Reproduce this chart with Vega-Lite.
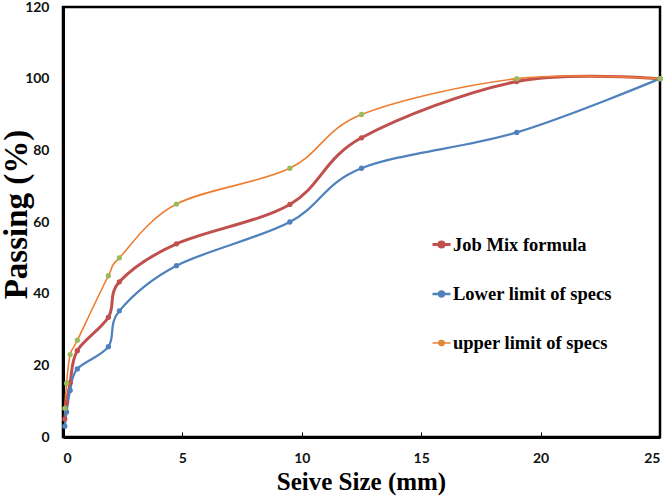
{
  "$schema": "https://vega.github.io/schema/vega-lite/v6.json",
  "width": 597,
  "height": 430,
  "autosize": {"type": "none"},
  "padding": {"left": 63, "top": 7, "right": 9, "bottom": 59},
  "background": "white",
  "config": {
    "view": {"stroke": "black", "strokeWidth": 2.5},
    "axis": {
      "grid": false,
      "domainColor": "black",
      "domainWidth": 3,
      "labelFont": "Lato",
      "labelFontWeight": "bold",
      "labelFontSize": 14,
      "labelColor": "#111111",
      "titleFont": "Liberation Serif",
      "titleFontWeight": "bold",
      "titleColor": "black"
    },
    "legend": {
      "labelFont": "Liberation Serif",
      "labelFontWeight": "bold",
      "labelFontSize": 18.5,
      "labelColor": "black"
    }
  },
  "data": {
    "values": [
      {"series": "Job Mix formula", "size": 25, "passing": 100},
      {"series": "Job Mix formula", "size": 19, "passing": 99.2},
      {"series": "Job Mix formula", "size": 12.5, "passing": 83.5},
      {"series": "Job Mix formula", "size": 9.5, "passing": 64.9},
      {"series": "Job Mix formula", "size": 4.75, "passing": 53.9},
      {"series": "Job Mix formula", "size": 2.36, "passing": 43.3},
      {"series": "Job Mix formula", "size": 1.9, "passing": 33.4},
      {"series": "Job Mix formula", "size": 0.6, "passing": 24.1},
      {"series": "Job Mix formula", "size": 0.3, "passing": 15.2},
      {"series": "Job Mix formula", "size": 0.15, "passing": 9.6},
      {"series": "Job Mix formula", "size": 0.075, "passing": 5},
      {"series": "Lower limit of specs", "size": 25, "passing": 100},
      {"series": "Lower limit of specs", "size": 19, "passing": 85},
      {"series": "Lower limit of specs", "size": 12.5, "passing": 75},
      {"series": "Lower limit of specs", "size": 9.5, "passing": 60},
      {"series": "Lower limit of specs", "size": 4.75, "passing": 47.8},
      {"series": "Lower limit of specs", "size": 2.36, "passing": 35.2},
      {"series": "Lower limit of specs", "size": 1.9, "passing": 25.2},
      {"series": "Lower limit of specs", "size": 0.6, "passing": 19},
      {"series": "Lower limit of specs", "size": 0.3, "passing": 13},
      {"series": "Lower limit of specs", "size": 0.15, "passing": 7},
      {"series": "Lower limit of specs", "size": 0.075, "passing": 3},
      {"series": "upper limit of specs", "size": 25, "passing": 100},
      {"series": "upper limit of specs", "size": 19, "passing": 100},
      {"series": "upper limit of specs", "size": 12.5, "passing": 90},
      {"series": "upper limit of specs", "size": 9.5, "passing": 75},
      {"series": "upper limit of specs", "size": 4.75, "passing": 65},
      {"series": "upper limit of specs", "size": 2.36, "passing": 50},
      {"series": "upper limit of specs", "size": 1.9, "passing": 45},
      {"series": "upper limit of specs", "size": 0.6, "passing": 27},
      {"series": "upper limit of specs", "size": 0.3, "passing": 23},
      {"series": "upper limit of specs", "size": 0.15, "passing": 15},
      {"series": "upper limit of specs", "size": 0.075, "passing": 8}
    ]
  },
  "encoding": {
    "x": {
      "field": "size",
      "type": "quantitative",
      "scale": {"domain": [0, 25], "nice": false, "zero": false},
      "axis": {
        "title": "Seive Size (mm)",
        "titleFontSize": 25,
        "titleX": 298,
        "titleY": 44,
        "titleBaseline": "middle",
        "values": [0, 5, 10, 15, 20, 25],
        "ticks": true,
        "tickSize": -5,
        "tickColor": "black",
        "tickWidth": 1,
        "labelPadding": 19
      }
    },
    "y": {
      "field": "passing",
      "type": "quantitative",
      "scale": {"domain": [0, 120], "nice": false},
      "axis": {
        "title": "Passing (%)",
        "titleFontSize": 33,
        "titleAngle": -90,
        "titleX": -47,
        "titleY": 207,
        "titleBaseline": "middle",
        "titleAlign": "center",
        "values": [0, 20, 40, 60, 80, 100, 120],
        "ticks": false,
        "labelPadding": 14
      }
    }
  },
  "layer": [
    {
      "mark": {"type": "line", "interpolate": "cardinal", "tension": 0},
      "encoding": {
        "color": {
          "field": "series",
          "type": "nominal",
          "scale": {
            "domain": ["Job Mix formula", "Lower limit of specs", "upper limit of specs"],
            "range": ["#C0504D", "#4F81BD", "#ED7D31"]
          },
          "legend": {
            "title": null,
            "orient": "none",
            "legendX": 368,
            "legendY": 227,
            "symbolType": "M-1,0L1,0M-0.28,0A0.28,0.28,0,1,1,0.28,0A0.28,0.28,0,1,1,-0.28,0Z",
            "symbolSize": 324,
            "symbolStrokeWidth": 2,
            "labelOffset": 1,
            "rowPadding": 29.5,
            "encode": {
              "symbols": {"update": {"fill": {"scale": "fill", "field": "value"}}}
            }
          }
        },
        "strokeWidth": {
          "field": "series",
          "type": "nominal",
          "scale": {
            "domain": ["Job Mix formula", "Lower limit of specs", "upper limit of specs"],
            "range": [3, 1.6, 1.6]
          },
          "legend": null
        }
      }
    },
    {
      "mark": {"type": "point", "filled": true, "opacity": 1, "size": 28},
      "encoding": {
        "fill": {
          "field": "series",
          "type": "nominal",
          "scale": {
            "domain": ["Job Mix formula", "Lower limit of specs", "upper limit of specs"],
            "range": ["#C0504D", "#4F81BD", "#9BBB59"]
          },
          "legend": null
        }
      }
    }
  ]
}
